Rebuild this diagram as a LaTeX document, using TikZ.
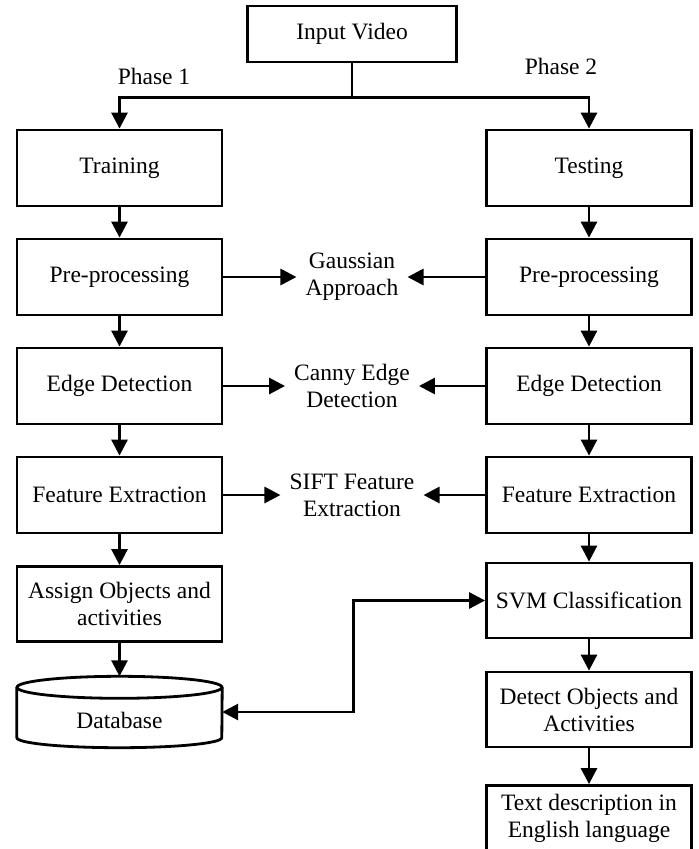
\documentclass[tikz,border=0pt]{standalone}
\usepackage{fontspec}
\setmainfont{Liberation Serif}
\usepackage{tikz}
\usetikzlibrary{arrows.meta,positioning}

\begin{document}
\begin{tikzpicture}[x=1pt, y=1pt, node distance=109pt,
    every node/.style={font=\fontsize{23.5}{27}\selectfont},
    stage/.style={rectangle, draw, line width=2.8pt, minimum width=205pt, minimum height=76pt, inner sep=0pt, align=center},
    note/.style={align=center, inner sep=9pt},
    flow/.style={-{Triangle[length=16pt, width=16pt]}, line width=2.8pt},
    both/.style={{Triangle[length=16pt, width=16pt]}-{Triangle[length=16pt, width=16pt]}, line width=2.8pt}]
    \useasboundingbox (0,0) rectangle (699,-849);

    \node (input) [stage, minimum width=209pt, minimum height=56pt] at (352,-34) {Input Video};
    \node (phaseone) at (154,-76) {Phase 1};
    \node (phasetwo) at (561,-66) {Phase 2};

    \node (train) [stage] at (119.5,-168) {Training};
    \node (prel) [stage, below of=train] {Pre-processing};
    \node (edgel) [stage, below of=prel] {Edge Detection};
    \node (featl) [stage, below of=edgel] {Feature Extraction};
    \node (assign) [stage, minimum height=75pt, below of=featl] {Assign Objects and\\activities};
    \node (db) [minimum width=205pt, minimum height=71pt, inner sep=0pt, text height=32pt, text depth=0pt, below of=assign, yshift=1pt] {Database};

    \node (test) [stage] at (589,-168) {Testing};
    \node (prer) [stage, below of=test] {Pre-processing};
    \node (edger) [stage, below of=prer] {Edge Detection};
    \node (featr) [stage, below of=edger] {Feature Extraction};
    \node (svm) [stage, minimum height=75pt, below of=featr, yshift=3.5pt] {SVM Classification};
    \node (detect) [stage, minimum height=75pt, below of=svm] {Detect Objects and\\Activities};
    \node (text) [stage, minimum height=66pt, below of=detect] {Text description in\\English language};

    \node (gauss) [note] at (352,-277) {Gaussian\\Approach};
    \node (canny) [note] at (352,-386) {Canny Edge\\Detection};
    \node (sift) [note] at (352,-495) {SIFT Feature\\Extraction};

    \draw[line width=2.8pt] ([yshift=-11]db.north) ellipse[x radius=102.5, y radius=11];
    \draw[line width=2.8pt] ([yshift=-11]db.north west) -- ([yshift=10]db.south west) arc[start angle=180, end angle=360, x radius=102.5, y radius=10] -- ([yshift=-11]db.north east);

    \draw[flow] (input.south) -- ++(0,-34) -| (train.north);
    \draw[flow] (input.south) -- ++(0,-34) -| (test.north);

    \draw[flow] (train) -- (prel);
    \draw[flow] (prel) -- (edgel);
    \draw[flow] (edgel) -- (featl);
    \draw[flow] (featl) -- (assign);
    \draw[flow] (assign) -- (db);

    \draw[flow] (test) -- (prer);
    \draw[flow] (prer) -- (edger);
    \draw[flow] (edger) -- (featr);
    \draw[flow] (featr) -- (svm);
    \draw[flow] (svm) -- (detect);
    \draw[flow] (detect) -- (text);

    \draw[flow] (prel) -- (gauss);
    \draw[flow] (prer) -- (gauss);
    \draw[flow] (edgel) -- (canny);
    \draw[flow] (edger) -- (canny);
    \draw[flow] (featl) -- (sift);
    \draw[flow] (featr) -- (sift);

    \draw[both] (db.east) -- ++(131,0) |- (svm.west);
\end{tikzpicture}
\end{document}
